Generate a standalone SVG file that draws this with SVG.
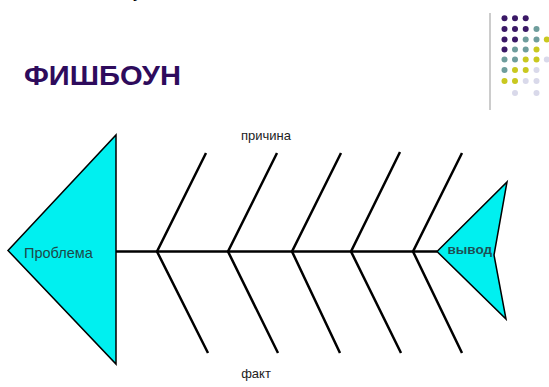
<svg xmlns="http://www.w3.org/2000/svg" width="549" height="387" viewBox="0 0 549 387">
<style>
.bone{stroke:#000;stroke-width:2.5;fill:none;stroke-linecap:butt}
.head{fill:#00f0f0;stroke:#000;stroke-width:1.5;stroke-linejoin:miter}
.lbl{font-family:"Liberation Sans",Arial,sans-serif;font-size:13px;fill:#222}
.p{fill:#3a1866}.t{fill:#6e9d9c}.y{fill:#c9c81f}.l{fill:#d9d9ea}
</style>
<rect width="549" height="387" fill="#fff"/>
<text x="133" y="-3" font-family="Liberation Sans,Arial,sans-serif" font-size="20" fill="#000">у</text>
<g id="title"><text x="24" y="85" font-family="Liberation Sans,Arial,sans-serif" font-size="27" font-weight="bold" fill="#2e0b5c" textLength="157" lengthAdjust="spacingAndGlyphs">ФИШБОУН</text></g>
<g id="logo">
<line x1="490" y1="13" x2="490" y2="110" stroke="#999" stroke-width="1"/>
<g>
<circle class="p" cx="504.5" cy="18.3" r="3"/><circle class="p" cx="515" cy="18.3" r="3"/><circle class="p" cx="525.7" cy="18.3" r="3"/>
<circle class="p" cx="504.5" cy="29" r="3"/><circle class="p" cx="515" cy="29" r="3"/><circle class="p" cx="525.7" cy="29" r="3"/><circle class="t" cx="536.5" cy="29" r="3"/>
<circle class="p" cx="504.5" cy="39.5" r="3"/><circle class="p" cx="515" cy="39.5" r="3"/><circle class="t" cx="525.7" cy="39.5" r="3"/><circle class="t" cx="536.5" cy="39.5" r="3"/><circle class="y" cx="546.8" cy="39.5" r="3"/>
<circle class="p" cx="504.5" cy="49.5" r="3"/><circle class="t" cx="515" cy="49.5" r="3"/><circle class="t" cx="525.7" cy="49.5" r="3"/><circle class="y" cx="536.5" cy="49.5" r="3"/>
<circle class="t" cx="504.5" cy="59.5" r="3"/><circle class="t" cx="515" cy="59.5" r="3"/><circle class="y" cx="525.7" cy="59.5" r="3"/><circle class="y" cx="536.5" cy="59.5" r="3"/><circle class="l" cx="546.8" cy="59.5" r="3"/>
<circle class="t" cx="504.5" cy="70" r="3"/><circle class="y" cx="515" cy="70" r="3"/><circle class="y" cx="525.7" cy="70" r="3"/><circle class="l" cx="536.5" cy="70" r="3"/>
<circle class="y" cx="504.5" cy="81" r="3"/><circle class="y" cx="515" cy="81" r="3"/><circle class="l" cx="525.7" cy="81" r="3"/><circle class="l" cx="536.5" cy="81" r="3"/>
<circle class="l" cx="515" cy="93" r="3"/><circle class="l" cx="536.5" cy="93" r="3"/>
</g>
</g>
<g id="connectors">
<line class="bone" x1="116" y1="251.5" x2="437" y2="251.5"/>
<polyline class="bone" points="206,153 157,251.5 208,353"/>
<polyline class="bone" points="277,153 228,251.5 278,353"/>
<polyline class="bone" points="341,153 292,251.5 340,353"/>
<polyline class="bone" points="400,152 351,251.5 401,353"/>
<polyline class="bone" points="462,153 413,251.5 462,353"/>
</g>
<g id="problem">
<polygon class="head" points="8,250.5 116,135 116,364"/>
<text x="24" y="257.5" font-family="Liberation Sans,Arial,sans-serif" font-size="14.5" fill="#1d4848">Проблема</text>
</g>
<g id="result">
<polygon class="head" points="437,251.5 507,182 494,255 506,319"/>
<text x="447.5" y="254" font-family="Liberation Sans,Arial,sans-serif" font-size="13.5" font-weight="bold" fill="#1d5055">вывод</text>
</g>
<g id="labels">
<text class="lbl" x="266" y="140" text-anchor="middle">причина</text>
<text class="lbl" x="256" y="378" text-anchor="middle">факт</text>
</g>
</svg>
